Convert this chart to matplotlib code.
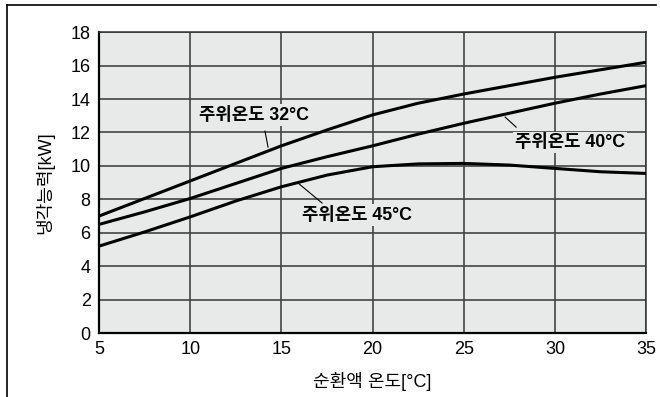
import matplotlib
matplotlib.use("Agg")
import matplotlib.pyplot as plt
from matplotlib.lines import Line2D

plt.rcParams['font.family'] = ['Liberation Sans', 'Noto Sans CJK KR', 'DejaVu Sans']

x = [5, 7.5, 10, 12.5, 15, 17.5, 20, 22.5, 25, 27.5, 30, 32.5, 35]
cap_32 = [7.0, 8.05, 9.1, 10.15, 11.2, 12.15, 13.05, 13.75, 14.3, 14.8, 15.3, 15.75, 16.2]
cap_40 = [6.5, 7.25, 8.05, 8.95, 9.85, 10.55, 11.2, 11.9, 12.55, 13.15, 13.75, 14.3, 14.8]
cap_45 = [5.2, 6.05, 6.95, 7.9, 8.75, 9.45, 9.95, 10.12, 10.15, 10.05, 9.85, 9.65, 9.55]
xticks = [5, 10, 15, 20, 25, 30, 35]
yticks = [0, 2, 4, 6, 8, 10, 12, 14, 16, 18]
labels = ['주위온도 32°C', '주위온도 40°C', '주위온도 45°C']

bg = '#e8e9e9'
fam = ['Liberation Sans', 'Noto Sans CJK KR']
fig = plt.figure(figsize=(6.6, 3.97), dpi=100)
ax = fig.add_axes([0.15, 0.161, 0.829, 0.758])
ax.set_facecolor(bg)
ax.set_xlim(5, 35)
ax.set_ylim(0, 18)
ax.set_xticks(xticks)
ax.set_yticks(yticks)
ax.grid(True, color='#444444', linewidth=1.2)
ax.set_axisbelow(True)
ax.tick_params(length=0, labelsize=13, pad=6)
for s in ['left', 'bottom']:
    ax.spines[s].set_linewidth(1.6)
    ax.spines[s].set_color('black')
for s in ['top', 'right']:
    ax.spines[s].set_linewidth(1.1)
    ax.spines[s].set_color('#333333')

for ys in [cap_32, cap_40, cap_45]:
    ax.plot(x, ys, color='black', linewidth=2.2, solid_capstyle='butt',
            solid_joinstyle='round', zorder=3)

tfont = dict(family=fam, fontsize=12.8, fontweight='bold')
box = dict(facecolor=bg, edgecolor='none', pad=1.5)
ax.text(13.5, 13.04, labels[0], ha='center', va='center', bbox=box, zorder=4, **tfont)
ax.plot([14.1, 14.27], [12.08, 11.12], color='black', linewidth=0.8, zorder=3)
ax.text(30.84, 11.42, labels[1], ha='center', va='center', bbox=box, zorder=4, **tfont)
ax.plot([27.27, 27.87], [12.92, 12.32], color='black', linewidth=0.8, zorder=3)
ax.text(19.15, 7.06, labels[2], ha='center', va='center', bbox=box, zorder=4, **tfont)
ax.plot([15.92, 17.23], [8.97, 7.78], color='black', linewidth=0.8, zorder=3)

ax.set_xlabel('순환액 온도[°C]', fontsize=13, family=fam, labelpad=10)
ax.set_ylabel('냉각능력[kW]', fontsize=13, family=fam, labelpad=12)

fig.add_artist(Line2D([7/660, 7/660], [0, 1-5/397], color='black', linewidth=1.2, transform=fig.transFigure))
fig.add_artist(Line2D([7/660, 656/660], [1-5/397, 1-5/397], color='black', linewidth=1.2, transform=fig.transFigure))

fig.savefig('out.png', dpi=100)
